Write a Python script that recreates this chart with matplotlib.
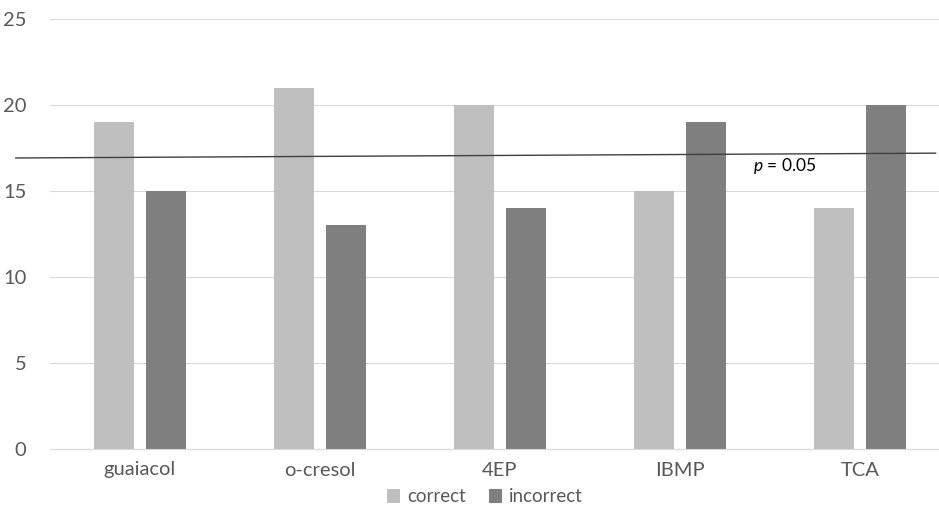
import matplotlib.pyplot as plt
import numpy as np

categories = ["guaiacol", "o-cresol", "4EP", "IBMP", "TCA"]
correct = [19, 21, 20, 15, 14]
incorrect = [15, 13, 14, 19, 20]

# p = 0.05 threshold line (slightly sloped in the original)
p_line_x = [-0.69, 4.42]
p_line_y = [16.92, 17.2]

LIGHT = "#bfbfbf"
DARK = "#7f7f7f"
TXT = "#595959"

plt.rcParams["font.family"] = ["Lato", "DejaVu Sans"]
plt.rcParams["mathtext.fontset"] = "custom"
plt.rcParams["mathtext.it"] = "Lato:italic"
plt.rcParams["mathtext.rm"] = "Lato"

W, H = 939, 508
fig = plt.figure(figsize=(W / 100, H / 100), dpi=100)
ax = fig.add_axes([50 / W, (H - 449) / H, 889 / W, 430 / H])

x = np.arange(len(categories))
bw = 0.222
ax.bar(x - 0.142, correct, bw, color=LIGHT, label="correct", zorder=2)
ax.bar(x + 0.142, incorrect, bw, color=DARK, label="incorrect", zorder=2)

ax.plot(p_line_x, p_line_y, color="#404040", lw=1.0, clip_on=False, zorder=3)
ax.text(3.583, 16.45, "$\\it{p}$ = 0.05", fontsize=12.5, color="black",
        ha="center", va="center", zorder=4)

ax.set_xlim(-0.5, -0.5 + 889 / 180)
ax.set_ylim(0, 25)
ax.set_yticks(range(0, 26, 5))
ax.set_xticks(x)
ax.set_xticklabels(categories)
ax.tick_params(axis="both", length=0, labelsize=14.5, labelcolor=TXT)
ax.tick_params(axis="y", pad=17)
ax.tick_params(axis="x", pad=9)
ax.grid(axis="y", color="#d9d9d9", lw=0.8, zorder=0)
for s in ["top", "right", "left"]:
    ax.spines[s].set_visible(False)
ax.spines["bottom"].set_color("#d9d9d9")

fig.legend(loc="center", bbox_to_anchor=(485 / W, 1 - 497 / H), ncol=2,
           frameon=False, fontsize=13.5, labelcolor=TXT, handlelength=0.7,
           handleheight=0.7, handletextpad=0.4, columnspacing=1.2)

fig.savefig("out.png", dpi=100)
